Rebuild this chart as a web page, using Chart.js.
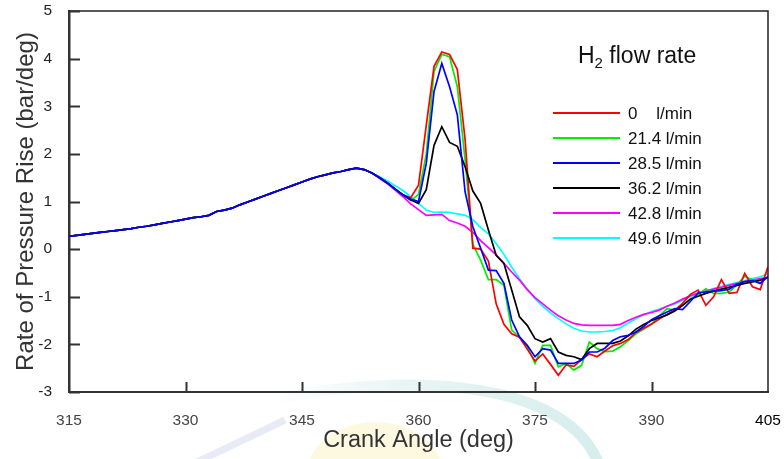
<!DOCTYPE html>
<html>
<head>
<meta charset="utf-8">
<title>Rate of Pressure Rise</title>
<script src="https://cdn.jsdelivr.net/npm/chart.js@4.4.1/dist/chart.umd.min.js"></script>
<style>
  html, body { margin: 0; padding: 0; background: #fff; }
  #wrap { width: 784px; height: 459px; }
</style>
</head>
<body>
<div id="wrap"><canvas id="rateChart" width="784" height="459"></canvas></div>
<script>
/* DATA */
// crank angle in 1 deg steps, 315..405
const angles = Array.from({ length: 91 }, (_, i) => 315 + i);

// 315..354 deg, all flow rates run together here
const sharedRise = [
  0.27, 0.29, 0.31, 0.33, 0.35, 0.37, 0.39, 0.41, 0.43, 0.46,
  0.48, 0.51, 0.54, 0.57, 0.60, 0.63, 0.66, 0.68, 0.71, 0.79,
  0.82, 0.86, 0.93, 0.99, 1.05, 1.11, 1.17, 1.23, 1.29, 1.35,
  1.41, 1.47, 1.52, 1.56, 1.60, 1.63, 1.67, 1.70, 1.67, 1.60
];

// 355..405 deg for each H2 flow rate
const flow0 = [
  1.50, 1.39, 1.26, 1.14, 1.08,
  1.34, 2.60, 3.84, 4.14, 4.09, 3.77, 2.30, 0.02, 0.00, -0.25,
  -1.15, -1.58, -1.78, -1.85, -2.10, -2.35, -2.20, -2.42, -2.65, -2.43,
  -2.46, -2.32, -2.20, -2.26, -2.14, -2.03, -1.98, -1.90, -1.75, -1.66,
  -1.57, -1.47, -1.37, -1.28, -1.14, -0.95, -0.86, -1.18, -1.00, -0.64,
  -0.93, -0.91, -0.51, -0.79, -0.85, -0.37
];
const flow214 = [
  1.50, 1.39, 1.26, 1.14, 1.02,
  1.15, 2.00, 3.73, 4.09, 4.04, 3.41, 1.87, 0.10, -0.23, -0.64,
  -0.64, -0.76, -1.70, -1.85, -2.05, -2.40, -2.02, -2.02, -2.47, -2.40,
  -2.54, -2.44, -1.95, -2.09, -2.15, -2.14, -2.05, -1.92, -1.78, -1.68,
  -1.58, -1.40, -1.25, -1.28, -1.18, -1.05, -0.95, -0.83, -0.93, -0.93,
  -0.90, -0.75, -0.57, -0.65, -0.66, -0.60
];
const flow285 = [
  1.50, 1.39, 1.26, 1.14, 1.05,
  1.00, 1.80, 3.31, 3.90, 3.41, 2.82, 1.20, 0.47, 0.02, -0.44,
  -0.45, -0.72, -1.49, -1.84, -2.02, -2.26, -2.09, -2.12, -2.40, -2.40,
  -2.40, -2.33, -2.16, -2.16, -2.08, -1.92, -1.84, -1.81, -1.74, -1.62,
  -1.48, -1.40, -1.32, -1.25, -1.27, -1.10, -0.92, -0.90, -0.88, -0.87,
  -0.84, -0.74, -0.68, -0.66, -0.72, -0.57
];
const flow362 = [
  1.50, 1.39, 1.26, 1.14, 1.03,
  0.96, 1.25, 2.18, 2.57, 2.24, 2.16, 1.73, 1.22, 0.96, 0.40,
  -0.13, -0.30, -0.86, -1.42, -1.60, -1.88, -1.95, -1.88, -2.16, -2.23,
  -2.26, -2.32, -2.09, -1.98, -1.98, -1.98, -1.93, -1.82, -1.68, -1.58,
  -1.50, -1.44, -1.38, -1.30, -1.18, -1.05, -0.99, -0.93, -0.88, -0.84,
  -0.80, -0.76, -0.72, -0.69, -0.65, -0.60
];
const flow428 = [
  1.48, 1.37, 1.24, 1.10, 0.95,
  0.83, 0.71, 0.72, 0.73, 0.60, 0.55, 0.48, 0.35, 0.18, 0.03,
  -0.12, -0.30, -0.48, -0.65, -0.85, -1.02, -1.15, -1.28, -1.40, -1.49,
  -1.56, -1.59, -1.60, -1.60, -1.60, -1.60, -1.58, -1.50, -1.43, -1.37,
  -1.33, -1.28, -1.20, -1.13, -1.05, -0.98, -0.92, -0.88, -0.84, -0.80,
  -0.76, -0.72, -0.68, -0.65, -0.62, -0.60
];
const flow496 = [
  1.52, 1.43, 1.33, 1.23, 1.10,
  0.96, 0.82, 0.77, 0.78, 0.77, 0.74, 0.71, 0.62, 0.45, 0.32,
  0.12, -0.11, -0.38, -0.62, -0.84, -1.04, -1.20, -1.34, -1.46, -1.57,
  -1.66, -1.72, -1.74, -1.74, -1.73, -1.71, -1.65, -1.55, -1.46, -1.38,
  -1.31, -1.26, -1.20, -1.15, -1.08, -1.00, -0.93, -0.88, -0.83, -0.78,
  -0.74, -0.70, -0.66, -0.62, -0.58, -0.52
];

const seriesLabels = ["0    l/min", "21.4 l/min", "28.5 l/min", "36.2 l/min", "42.8 l/min", "49.6 l/min"];
const seriesColors = ["#ff0000", "#00ee00", "#0000ff", "#000000", "#ff00ff", "#00ffff"];
const seriesTails = [flow0, flow214, flow285, flow362, flow428, flow496];
const seriesOrder = [2, 3, 0, 1, 4, 5];

const xTicks = [315, 330, 345, 360, 375, 390, 405];
const yTicks = [-3, -2, -1, 0, 1, 2, 3, 4, 5];

const FONT = 'Arial, "Liberation Sans", sans-serif';
Chart.defaults.font.family = FONT;

function toPoints(tail){
  const ys = sharedRise.concat(tail);
  return angles.map((a, i) => ({ x: a, y: ys[i] }));
}

// keep tick-label overflow from pushing the plot area around
function noScalePadding(s){
  s.paddingTop = 0;
  s.paddingBottom = 0;
  s.paddingLeft = 0;
  s.paddingRight = 0;
}

/* BACKGROUND LOGO (faint, behind everything) */
const logoPlugin = {
  id: "logo",
  beforeDraw(chart){
    const { ctx } = chart;
    ctx.save();
    ctx.fillStyle = "rgba(250,238,170,0.35)";
    ctx.beginPath();
    ctx.ellipse(375, 474, 68, 52, 0, 0, Math.PI * 2);
    ctx.fill();

    ctx.strokeStyle = "rgba(205,210,235,0.45)";
    ctx.lineWidth = 7;
    ctx.beginPath();
    ctx.moveTo(195, 463);
    ctx.lineTo(285, 420);
    ctx.stroke();

    const g = ctx.createLinearGradient(270, 0, 600, 0);
    g.addColorStop(0, "rgba(180,222,222,0)");
    g.addColorStop(0.4, "rgba(180,222,222,0.3)");
    g.addColorStop(1, "rgba(165,215,216,0.45)");
    ctx.strokeStyle = g;
    ctx.lineWidth = 11;
    ctx.beginPath();
    ctx.moveTo(270, 400);
    ctx.bezierCurveTo(380, 376, 560, 371, 598, 462);
    ctx.stroke();
    ctx.restore();
  }
};

/* FRAME + INWARD TICKS */
const framePlugin = {
  id: "frame",
  afterDraw(chart){
    const { ctx, chartArea: a, scales } = chart;
    ctx.save();
    ctx.strokeStyle = "#222";
    ctx.lineWidth = 1.5;
    ctx.beginPath();
    ctx.moveTo(a.left, a.top);
    ctx.lineTo(a.right, a.top);
    ctx.lineTo(a.right, a.bottom);
    ctx.stroke();

    ctx.strokeStyle = "#333";
    ctx.lineWidth = 2;
    ctx.beginPath();
    scales.x.ticks.forEach(t => {
      if (t.value === 315 || t.value === 405) return;
      const px = Math.round(scales.x.getPixelForValue(t.value)) + 0.5;
      ctx.moveTo(px, a.bottom);
      ctx.lineTo(px, a.bottom - 10);
    });
    scales.y.ticks.forEach(t => {
      const py = Math.round(scales.y.getPixelForValue(t.value)) + 0.5;
      ctx.moveTo(a.left, py);
      ctx.lineTo(a.left + 11, py);
    });
    ctx.stroke();
    ctx.restore();
  }
};

/* LEGEND */
const legendPlugin = {
  id: "flowLegend",
  afterDraw(chart){
    const { ctx } = chart;
    ctx.save();
    ctx.fillStyle = "#111";
    ctx.textBaseline = "alphabetic";
    ctx.font = "23px " + FONT;
    let x = 578;
    ctx.fillText("H", x, 63);
    x += ctx.measureText("H").width;
    ctx.font = "15px " + FONT;
    ctx.fillText("2", x, 68);
    x += ctx.measureText("2").width;
    ctx.font = "23px " + FONT;
    ctx.fillText(" flow rate", x, 63);

    ctx.font = "17px " + FONT;
    ctx.textBaseline = "middle";
    chart.data.datasets.forEach((ds, i) => {
      const y = 113 + i * 25;
      ctx.strokeStyle = ds.borderColor;
      ctx.lineWidth = 2;
      ctx.beginPath();
      ctx.moveTo(553, y);
      ctx.lineTo(620, y);
      ctx.stroke();
      ctx.fillStyle = "#111";
      ctx.fillText(ds.label, 628, y + 1);
    });
    ctx.restore();
  }
};

new Chart(document.getElementById("rateChart"), {
  type: "line",
  data: {
    datasets: seriesLabels.map((label, i) => ({
      label,
      data: toPoints(seriesTails[i]),
      borderColor: seriesColors[i],
      backgroundColor: seriesColors[i],
      borderWidth: 1.7,
      pointRadius: 0,
      tension: 0,
      fill: false,
      order: seriesOrder[i]
    }))
  },
  options: {
    responsive: false,
    animation: false,
    layout: { padding: { top: 11, right: 16, left: 0, bottom: 0 } },
    plugins: { legend: { display: false }, tooltip: { enabled: false } },
    scales: {
      x: {
        type: "linear",
        min: 315,
        max: 405,
        afterBuildTicks: s => { s.ticks = xTicks.map(v => ({ value: v })); },
        afterFit: s => { s.height = 67; noScalePadding(s); },
        grid: { display: false, drawTicks: false },
        border: { display: true, color: "#333", width: 2 },
        ticks: {
          padding: 19,
          color: c => c.tick.value === 405 ? "#000" : "#444",
          font: { size: 15.5 }
        },
        title: {
          display: true,
          text: "Crank Angle (deg)",
          color: "#333",
          font: { size: 23.5 },
          padding: { top: 0, bottom: 4 }
        }
      },
      y: {
        min: -3,
        max: 5,
        afterBuildTicks: s => { s.ticks = yTicks.map(v => ({ value: v })); },
        afterFit: s => { s.width = 69; noScalePadding(s); },
        grid: { display: false, drawTicks: false },
        border: { display: true, color: "#333", width: 2.5 },
        ticks: {
          padding: 17,
          color: "#222",
          font: { size: 15.5 }
        },
        title: {
          display: true,
          text: "Rate of Pressure Rise (bar/deg)",
          color: "#333",
          font: { size: 24 },
          padding: { top: 12, bottom: 0 }
        }
      }
    }
  },
  plugins: [logoPlugin, framePlugin, legendPlugin]
});
</script>
</body>
</html>
